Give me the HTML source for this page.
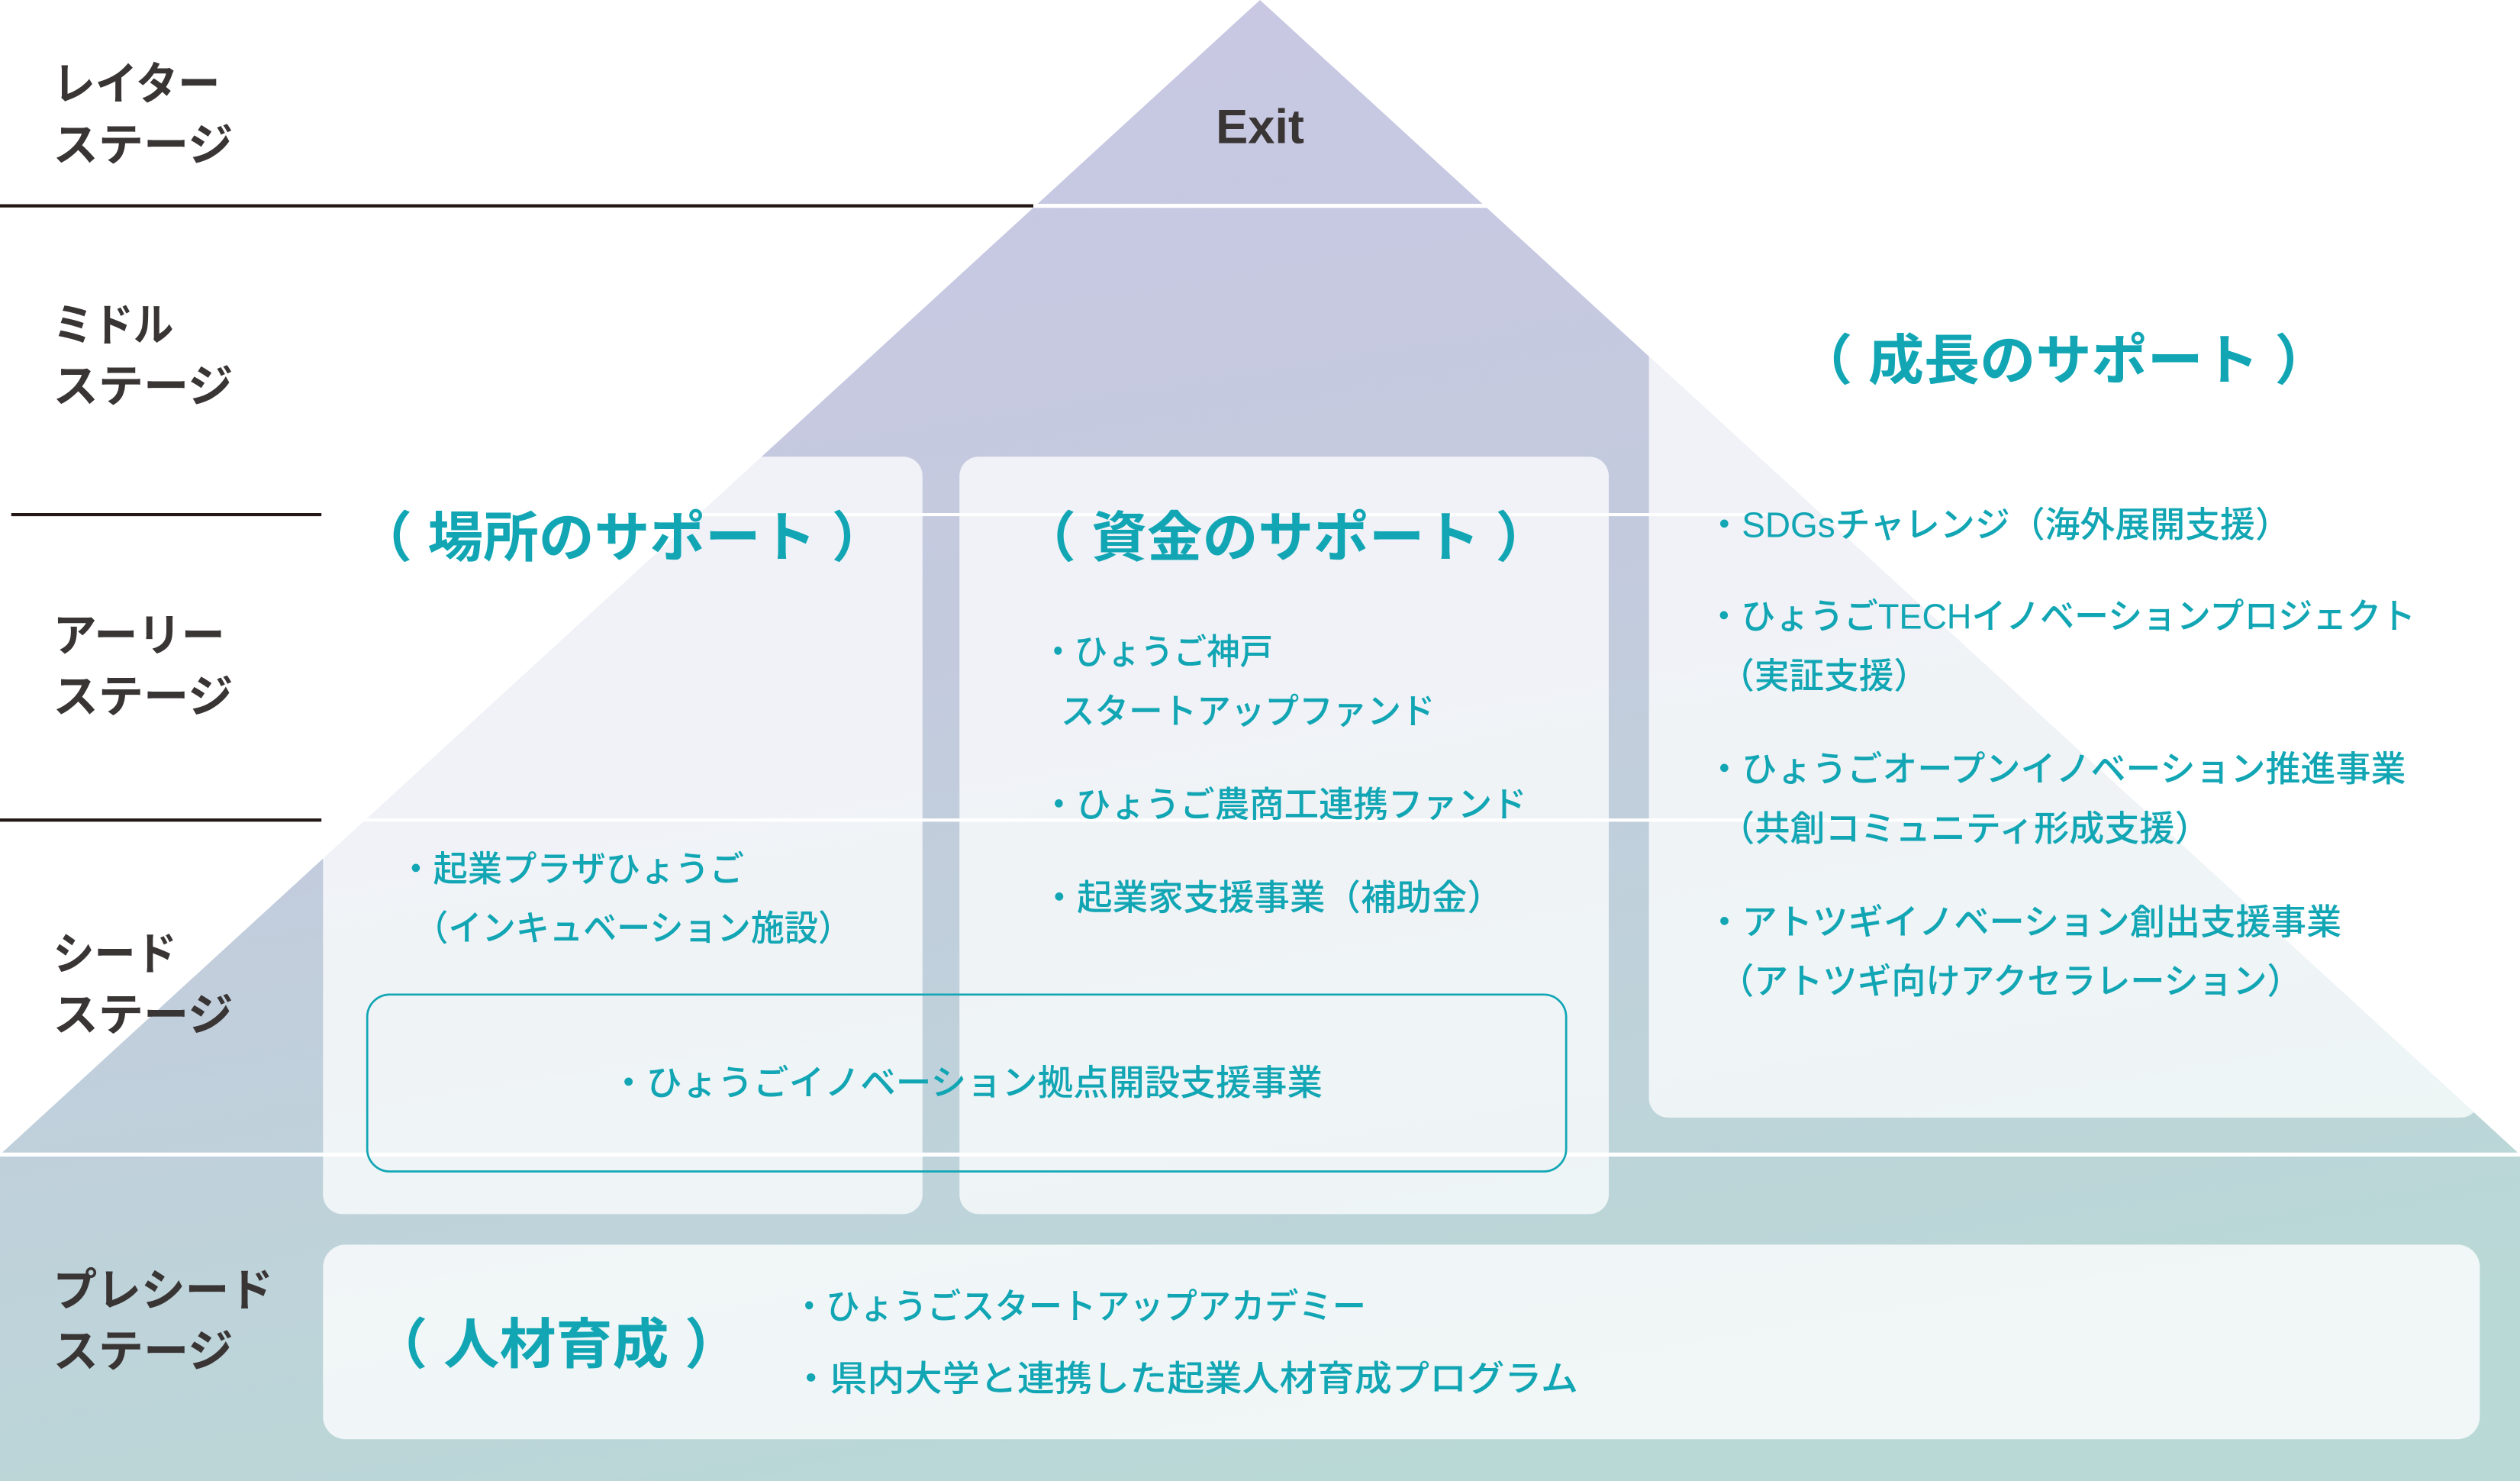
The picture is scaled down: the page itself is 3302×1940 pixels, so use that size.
<!DOCTYPE html>
<html><head><meta charset="utf-8"><style>
html,body{margin:0;padding:0;background:#fff;}
svg{display:block;}
text{font-family:"Liberation Sans","Noto Sans CJK JP",sans-serif;}
.st{fill:#3a3535;font-size:28px;font-weight:700;}
.h{fill:#12a6b4;font-size:34px;font-weight:700;}
.b{fill:#12a6b4;font-size:22px;font-weight:500;}
</style></head><body>
<svg width="3302" height="1940" viewBox="0 0 1568 921" preserveAspectRatio="none" xmlns="http://www.w3.org/2000/svg">
<defs>
<linearGradient id="g" gradientUnits="userSpaceOnUse" x1="700" y1="0" x2="850" y2="921">
<stop offset="0" stop-color="#c8c8e3"/>
<stop offset="0.4" stop-color="#c4cade"/>
<stop offset="0.75" stop-color="#bed3da"/>
<stop offset="1" stop-color="#b9d9d6"/>
</linearGradient>
<clipPath id="tri"><polygon points="784,0 1568,718 1568,921 0,921 0,718"/></clipPath>
</defs>
<polygon points="784,0 1568,718 1568,921 0,921 0,718" fill="url(#g)"/>
<line x1="0" y1="128" x2="643" y2="128" stroke="#231815" stroke-width="2"/>
<line x1="643" y1="128" x2="926" y2="128" stroke="#fff" stroke-width="2.5"/>
<line x1="7" y1="320" x2="200" y2="320" stroke="#231815" stroke-width="2"/>
<line x1="200" y1="320" x2="1100" y2="320" stroke="#fff" stroke-width="2" clip-path="url(#tri)"/>
<line x1="0" y1="510" x2="200" y2="510" stroke="#231815" stroke-width="2"/>
<line x1="200" y1="510" x2="1300" y2="510" stroke="#fff" stroke-width="2" clip-path="url(#tri)"/>
<line x1="0" y1="718" x2="1568" y2="718" stroke="#fff" stroke-width="2.5"/>
<rect x="201" y="284" width="373" height="471" rx="12" fill="#fff" fill-opacity="0.75"/>
<rect x="597" y="284" width="404" height="471" rx="12" fill="#fff" fill-opacity="0.75"/>
<g clip-path="url(#tri)"><rect x="1026" y="200" width="517" height="495" rx="12" fill="#fff" fill-opacity="0.75"/></g>
<rect x="201" y="774" width="1342" height="121" rx="14" fill="#fff" fill-opacity="0.78"/>
<rect x="228.5" y="618.5" width="746" height="110" rx="14" fill="none" stroke="#12a6b4" stroke-width="1.3"/>
<text class="st" x="33" y="62" textLength="104" lengthAdjust="spacingAndGlyphs">レイター</text>
<text class="st" x="33" y="100" textLength="112" lengthAdjust="spacingAndGlyphs">ステージ</text>
<text class="st" x="33" y="212" textLength="75" lengthAdjust="spacingAndGlyphs">ミドル</text>
<text class="st" x="33" y="250" textLength="112" lengthAdjust="spacingAndGlyphs">ステージ</text>
<text class="st" x="33" y="405" textLength="107" lengthAdjust="spacingAndGlyphs">アーリー</text>
<text class="st" x="33" y="443" textLength="112" lengthAdjust="spacingAndGlyphs">ステージ</text>
<text class="st" x="33" y="603" textLength="77" lengthAdjust="spacingAndGlyphs">シード</text>
<text class="st" x="33" y="641" textLength="112" lengthAdjust="spacingAndGlyphs">ステージ</text>
<text class="st" x="33" y="812" textLength="137" lengthAdjust="spacingAndGlyphs">プレシード</text>
<text class="st" x="33" y="850" textLength="112" lengthAdjust="spacingAndGlyphs">ステージ</text>
<text x="784" y="89" text-anchor="middle" style="fill:#3a3535;font-size:30px;font-weight:700;">Exit</text>
<text class="h" x="222" y="346" textLength="330" lengthAdjust="spacingAndGlyphs">（ 場所のサポート ）</text>
<text class="h" x="635" y="346" textLength="330" lengthAdjust="spacingAndGlyphs">（ 資金のサポート ）</text>
<text class="h" x="1118" y="236" textLength="332" lengthAdjust="spacingAndGlyphs">（ 成長のサポート ）</text>
<text class="h" x="231" y="848" textLength="230" lengthAdjust="spacingAndGlyphs">（ 人材育成 ）</text>
<text class="b" x="248" y="548" textLength="215" lengthAdjust="spacingAndGlyphs">・起業プラザひょうご</text>
<text class="b" x="258" y="585" textLength="272" lengthAdjust="spacingAndGlyphs">（インキュベーション施設）</text>
<text class="b" x="380" y="681" textLength="443" lengthAdjust="spacingAndGlyphs">・ひょうごイノベーション拠点開設支援事業</text>
<text class="b" x="648" y="413" textLength="144" lengthAdjust="spacingAndGlyphs">・ひょうご神戸</text>
<text class="b" x="660" y="450" textLength="233" lengthAdjust="spacingAndGlyphs">スタートアップファンド</text>
<text class="b" x="648" y="508" textLength="302" lengthAdjust="spacingAndGlyphs">・ひょうご農商工連携ファンド</text>
<text class="b" x="648" y="566" textLength="287" lengthAdjust="spacingAndGlyphs">・起業家支援事業（補助金）</text>
<text class="b" x="1062" y="334" textLength="363" lengthAdjust="spacingAndGlyphs">・SDGsチャレンジ（海外展開支援）</text>
<text class="b" x="1062" y="391" textLength="441" lengthAdjust="spacingAndGlyphs">・ひょうごTECHイノベーションプロジェクト</text>
<text class="b" x="1070" y="428" textLength="130" lengthAdjust="spacingAndGlyphs">（実証支援）</text>
<text class="b" x="1062" y="486" textLength="435" lengthAdjust="spacingAndGlyphs">・ひょうごオープンイノベーション推進事業</text>
<text class="b" x="1070" y="523" textLength="305" lengthAdjust="spacingAndGlyphs">（共創コミュニティ形成支援）</text>
<text class="b" x="1062" y="581" textLength="395" lengthAdjust="spacingAndGlyphs">・アトツギイノベーション創出支援事業</text>
<text class="b" x="1070" y="618" textLength="362" lengthAdjust="spacingAndGlyphs">（アトツギ向けアクセラレーション）</text>
<text class="b" x="493" y="820" textLength="357" lengthAdjust="spacingAndGlyphs">・ひょうごスタートアップアカデミー</text>
<text class="b" x="493" y="865" textLength="489" lengthAdjust="spacingAndGlyphs">・県内大学と連携した起業人材育成プログラム</text>
</svg>
</body></html>
